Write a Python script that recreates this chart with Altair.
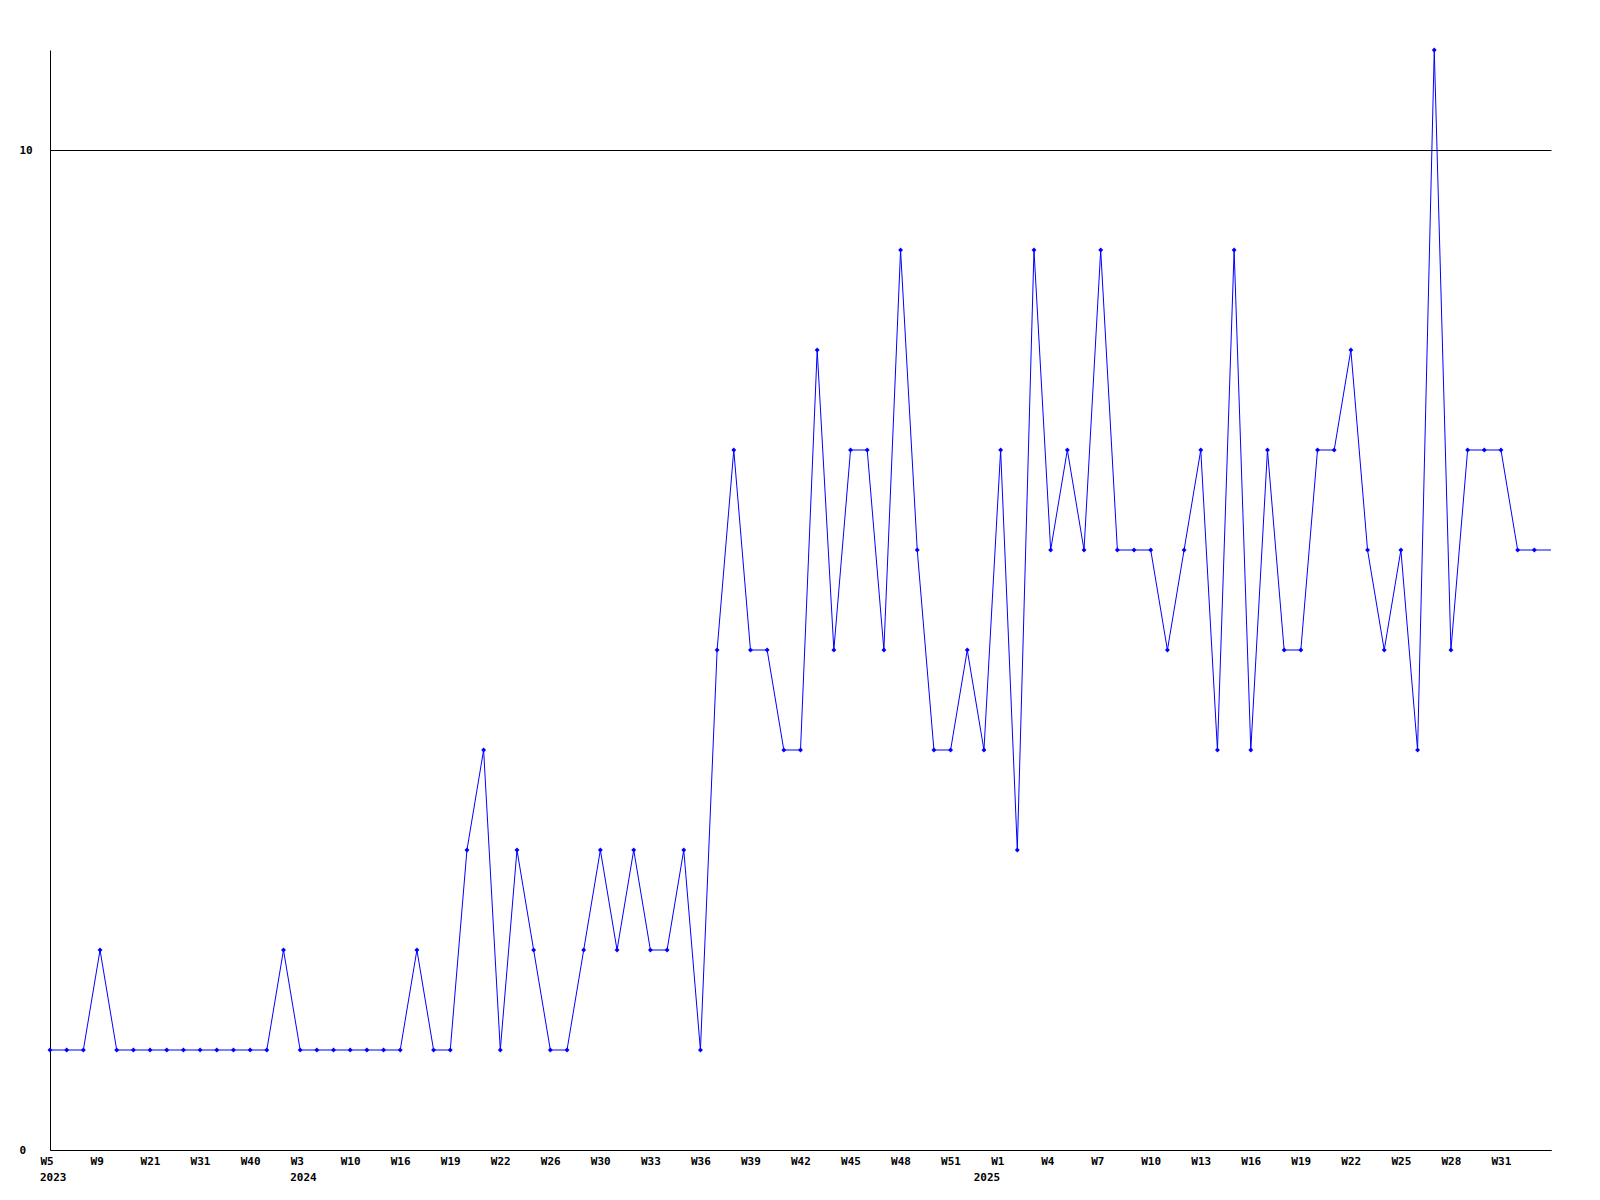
import altair as alt
import pandas as pd

# weekly values, one per week (index-based x positions)
values = [1, 1, 1, 2, 1, 1, 1, 1, 1, 1,
          1, 1, 1, 1, 2, 1, 1, 1, 1, 1,
          1, 1, 2, 1, 1, 3, 4, 1, 3, 2,
          1, 1, 2, 3, 2, 3, 2, 2, 3, 1,
          5, 7, 5, 5, 4, 4, 8, 5, 7, 7,
          5, 9, 6, 4, 4, 5, 4, 7, 3, 9,
          6, 7, 6, 9, 6, 6, 6, 5, 6, 7,
          4, 9, 4, 7, 5, 5, 7, 7, 8, 6,
          5, 6, 4, 11, 5, 7, 7, 7, 6, 6,
          6]

# tick labels, one every 3 weeks
week_labels = ["W5", "W9", "W21", "W31", "W40", "W3", "W10", "W16", "W19", "W22",
               "W26", "W30", "W33", "W36", "W39", "W42", "W45", "W48", "W51", "W1",
               "W4", "W7", "W10", "W13", "W16", "W19", "W22", "W25", "W28", "W31"]
year_names = ["2023", "2024", "2025"]
year_tick_pos = [0, 5, 19]   # which tick label each year sits under
tick_step = 3

y_ticks = [0, 10]

PLOT_W, PLOT_H = 1501, 1100
FONT = "DejaVu Sans Mono"

df = pd.DataFrame({"i": list(range(len(values))), "v": values})
last_index = len(values) - 1
years_df = pd.DataFrame({"i": [p * tick_step for p in year_tick_pos], "year": year_names})

label_expr = "[" + ",".join("'%s'" % w for w in week_labels) + "][round(datum.value/%d)]" % tick_step
tick_vals = [k * tick_step for k in range(len(week_labels))]

xscale = alt.Scale(domain=[0, last_index], nice=False, zero=False)

x = alt.X("i:Q", scale=xscale,
          axis=alt.Axis(values=tick_vals, labelExpr=label_expr, title=None,
                        grid=False, ticks=False, tickSize=0, domainColor="black",
                        domainWidth=1, labelAlign="left", labelOffset=-10,
                        labelBaseline="top", labelPadding=5,
                        labelFont=FONT, labelFontWeight="bold", labelFontSize=11,
                        labelColor="black", labelOverlap=False, labelFlush=False))
y = alt.Y("v:Q",
          scale=alt.Scale(domain=[0, 11], nice=False),
          axis=alt.Axis(values=y_ticks, title=None, grid=True, gridColor="black",
                        gridWidth=1, gridOpacity=1, ticks=False, tickSize=0,
                        domainColor="black", domainWidth=1, labelAlign="left",
                        labelPadding=31, labelBaseline="middle",
                        labelFont=FONT, labelFontWeight="bold", labelFontSize=11,
                        labelColor="black"))

base = alt.Chart(df)
line = base.mark_line(color="#0000ff", strokeWidth=1).encode(x=x, y=y)
pts = base.transform_filter("datum.i < %d" % last_index).mark_point(
    shape="diamond", filled=True, color="#0000ff", size=24, opacity=1
).encode(x=x, y=y)

year_base = alt.Chart(years_df)
year_text_style = dict(font=FONT, fontWeight="bold", fontSize=11, color="black",
                       align="left", baseline="top")
years_a = year_base.transform_filter("datum.year != '2025'").mark_text(
    dx=-10, **year_text_style
).encode(x=alt.X("i:Q", scale=xscale), y=alt.value(PLOT_H + 22), text="year:N")
years_b = year_base.transform_filter("datum.year == '2025'").mark_text(
    dx=-27, **year_text_style
).encode(x=alt.X("i:Q", scale=xscale), y=alt.value(PLOT_H + 22), text="year:N")

chart = alt.layer(line, pts, years_a, years_b).properties(
    width=PLOT_W, height=PLOT_H,
    autosize=alt.AutoSizeParams(type="none"),
    padding={"left": 42, "top": 42, "right": 40, "bottom": 40},
    background="white",
).configure_view(stroke=None)

chart.save("out.html", embed_options={"renderer": "svg", "actions": False})
